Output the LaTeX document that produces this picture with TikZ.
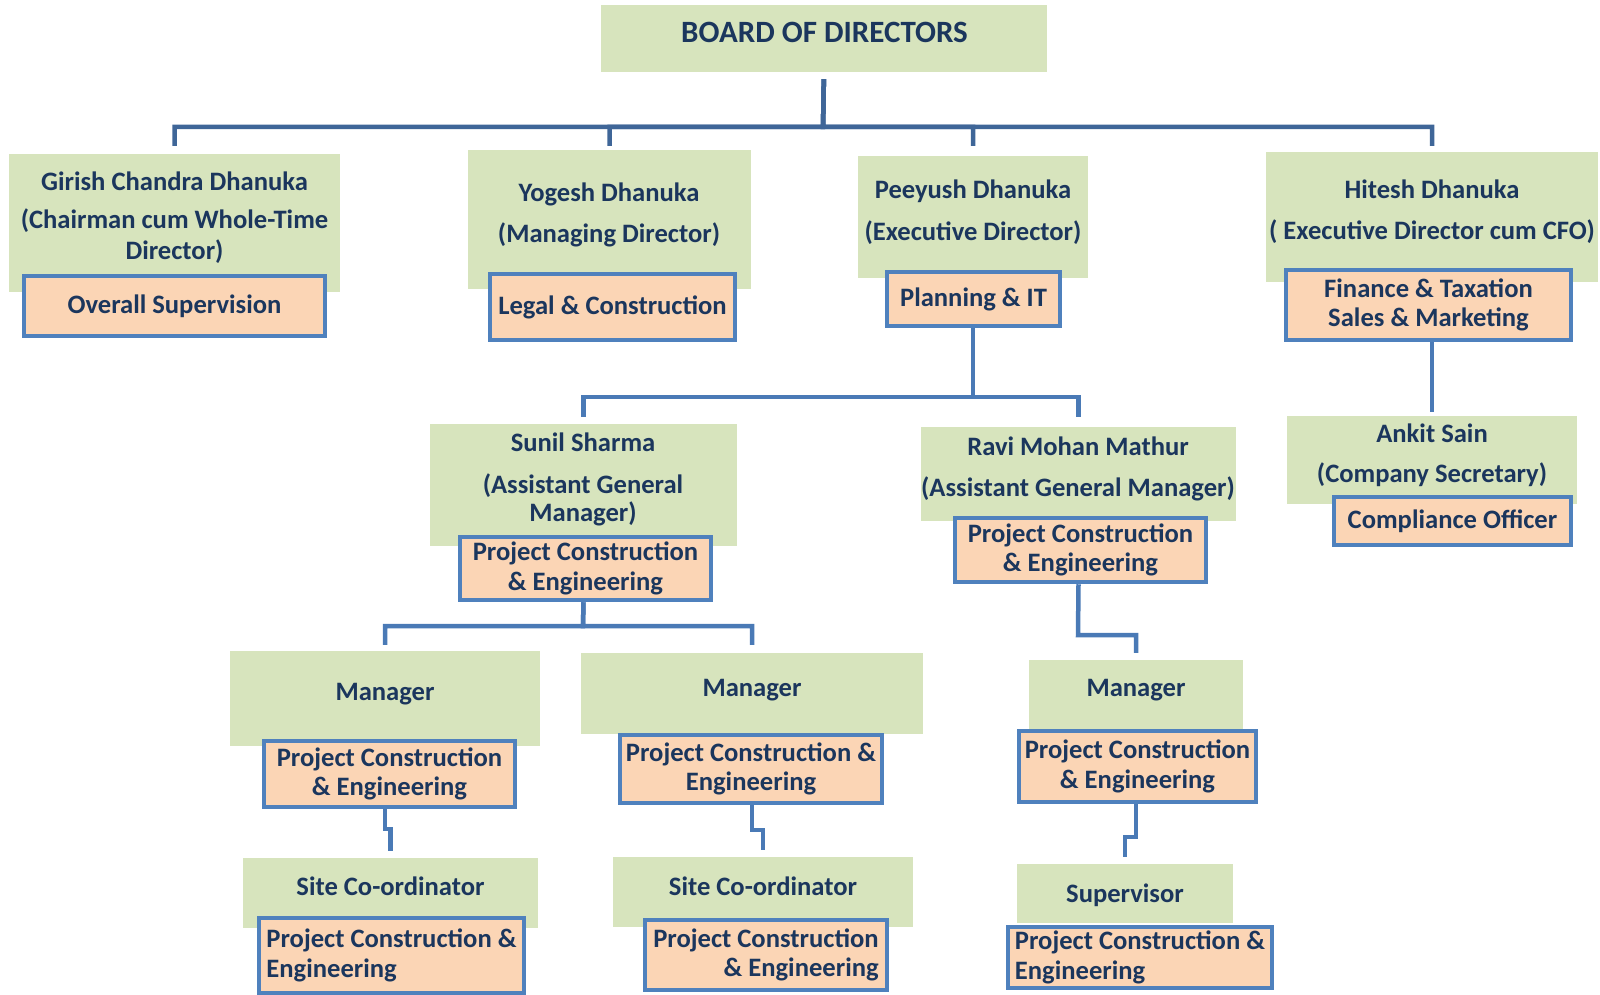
\documentclass[tikz,border=0pt]{standalone}
\usepackage{fontspec}
\setmainfont{Carlito}
\definecolor{gfill}{HTML}{D7E4BD}
\definecolor{ofill}{HTML}{FBD5B5}
\definecolor{oborder}{HTML}{4F81BD}
\definecolor{conntop}{HTML}{3F6698}
\definecolor{connlow}{HTML}{4A7AB6}
\definecolor{tcol}{HTML}{1B365D}
\newcommand\gbx[5]{\node[gbox, minimum width={(#4)-(#2)}, minimum height={(#5)-(#3)}] (#1) at ({((#2)+(#4))/2},{((#3)+(#5))/2}) {};}
\newcommand\obx[7]{\node[obox, #7, minimum width={(#4)-(#2)-4}, minimum height={(#5)-(#3)-4}] (#1) at ({((#2)+(#4))/2},{((#3)+(#5))/2}) {#6};}
\begin{document}
\begin{tikzpicture}[x=1pt, y=-1pt,
  gbox/.style={rectangle, fill=gfill, draw=none, inner sep=0pt},
  obox/.style={rectangle, fill=ofill, draw=oborder, line width=4.5pt, inner sep=0pt, text=tcol, font=\bfseries\fontsize{26.6}{29.5}\selectfont, align=center},
  txt/.style={text=tcol, font=\bfseries\fontsize{26.6}{29.5}\selectfont, anchor=base, inner sep=0pt},
  ttl/.style={text=tcol, font=\bfseries\fontsize{31}{34}\selectfont, anchor=base, inner sep=0pt},
  conn/.style={draw=conntop, line width=4.5pt},
  connl/.style={draw=connlow, line width=4.5pt}]
\useasboundingbox (0,0) rectangle (1600,995);

% green boxes
\gbx{bod}{601}{5}{1047}{72}
\gbx{g1}{9}{154}{340}{292}
\gbx{g2}{468}{150}{751}{289}
\gbx{g3}{858}{156}{1088}{278}
\gbx{g4}{1266}{152}{1598}{282}
\gbx{g5}{430}{424}{737}{546}
\gbx{g6}{921}{427}{1236}{521}
\gbx{g7}{1287}{416}{1577}{504}
\gbx{g8}{230}{651}{540}{746}
\gbx{g9}{581}{653}{923}{734}
\gbx{g10}{1029}{660}{1243}{729}
\gbx{g11}{243}{858}{538}{928}
\gbx{g12}{613}{857}{913}{927}
\gbx{g13}{1017}{864}{1233}{923}

% green texts
\node[ttl] (bodt) at (824.5,43) {BOARD OF DIRECTORS};
\node[txt] (g1a) at (174.5,190) {Girish Chandra Dhanuka};
\node[txt] (g1b) at (174.5,229) {(Chairman cum Whole-Time};
\node[txt] (g1c) at (174.5,259) {Director)};
\node[txt] (g2a) at (609,201) {Yogesh Dhanuka};
\node[txt] (g2b) at (609,242) {(Managing Director)};
\node[txt] (g3a) at (973,199) {Peeyush Dhanuka};
\node[txt] (g3b) at (973,240) {(Executive Director)};
\node[txt] (g4a) at (1432,198) {Hitesh Dhanuka};
\node[txt] (g4b) at (1432,239) {( Executive Director cum CFO)};
\node[txt] (g5a) at (583,451) {Sunil Sharma};
\node[txt] (g5b) at (583,493) {(Assistant General};
\node[txt] (g5c) at (583,521) {Manager)};
\node[txt] (g6a) at (1078,455) {Ravi Mohan Mathur};
\node[txt] (g6b) at (1078,496) {(Assistant General Manager)};
\node[txt] (g7a) at (1432,442) {Ankit Sain};
\node[txt] (g7b) at (1432,482) {(Company Secretary)};
\node[txt] (g8a) at (385,700) {Manager};
\node[txt] (g9a) at (752,696) {Manager};
\node[txt] (g10a) at (1136,696) {Manager};
\node[txt] (g11a) at (390.5,895) {Site Co-ordinator};
\node[txt] (g12a) at (763,895) {Site Co-ordinator};
\node[txt] (g13a) at (1125,902) {Supervisor};

% orange boxes
\obx{o1}{22}{274}{327}{338}{Overall Supervision}{}
\obx{o2}{488}{272}{737}{342}{Legal \& Construction}{}
\obx{o3}{885}{270}{1062}{328}{Planning \& IT}{}
\obx{o4}{1284}{268}{1573}{342}{Finance \& Taxation\\Sales \& Marketing}{}
\obx{o5}{458}{535}{713}{602}{Project Construction\\\& Engineering}{}
\obx{o6}{953}{516}{1208}{584}{Project Construction\\\& Engineering}{}
\obx{o7}{1332}{495}{1573}{547}{Compliance Officer}{}
\obx{o8}{262}{739}{517}{809}{Project Construction\\\& Engineering}{}
\obx{o9}{618}{733}{884}{805}{Project Construction \&\\Engineering}{}
\obx{o10}{1017}{729}{1258}{804}{Project Construction\\\& Engineering}{}
\obx{o11}{257}{916}{526}{995}{Project Construction \&\\Engineering}{align=left}
\obx{o12}{643}{918}{889}{992}{Project Construction\\\& Engineering}{align=right}
\obx{o13}{1006}{925}{1274}{990}{Project Construction \&\\Engineering}{align=left}

% connectors
\coordinate (bus1) at (823,127);
\draw[conn, shorten <=7pt, shorten >=8pt] (bod.south) -- (bus1) -| (g1.north);
\draw[conn, shorten <=7pt, shorten >=4pt] (bod.south) -- (bus1) -| (g2.north);
\draw[conn, shorten <=7pt, shorten >=10pt] (bod.south) -- (bus1) -| (g3.north);
\draw[conn, shorten <=7pt, shorten >=6pt] (bod.south) -- (bus1) -| (g4.north);

\coordinate (bus2) at (973,397);
\draw[connl, shorten >=7pt] (g3.north |- o3.south) -- (bus2) -| (g5.north);
\draw[connl, shorten >=10pt] (g3.north |- o3.south) -- (bus2) -| (g6.north);
\draw[connl, shorten >=4pt] (g7.north |- o4.south) -- (g7.north);

\coordinate (bus3) at (583,626);
\draw[connl, shorten >=6pt] (g5.north |- o5.south) -- (bus3) -| (g8.north);
\draw[connl, shorten >=8pt] (g5.north |- o5.south) -- (bus3) -| (g9.north);
\coordinate (j6) at (1078,635);
\draw[connl, shorten >=7pt] (g6.north |- o6.south) -- (j6) -| (g10.north);
\coordinate (j8) at (385,829);
\draw[connl, shorten >=7pt] (g8.north |- o8.south) -- (j8) -| (g11.north);
\coordinate (j9) at (752,830);
\draw[connl, shorten >=7pt] (g9.north |- o9.south) -- (j9) -| (g12.north);
\coordinate (j10) at (1136,837);
\draw[connl, shorten >=7pt] (g10.north |- o10.south) -- (j10) -| (g13.north);
\end{tikzpicture}
\end{document}
